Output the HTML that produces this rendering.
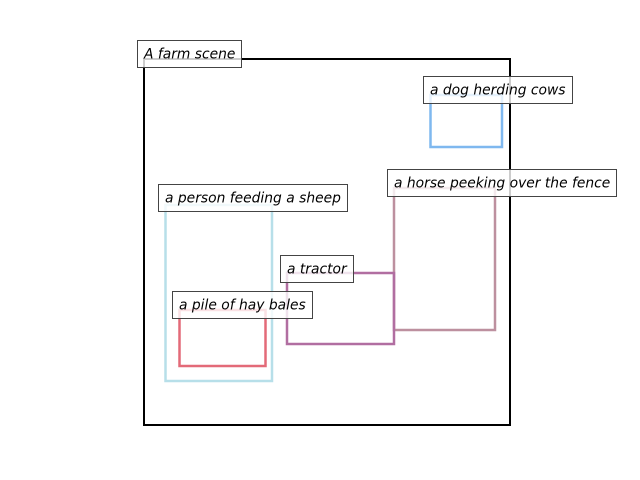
<!DOCTYPE html>
<html><head><style>html,body{margin:0;padding:0;background:#fff}</style></head>
<body>
<svg width="640" height="480" xmlns="http://www.w3.org/2000/svg" style="display:block">
<rect x="144" y="59" width="366" height="366" fill="none" stroke="#000" stroke-width="2"/>
<rect x="430.5" y="95" width="71.5" height="52" fill="none" stroke="#7fb8ef" stroke-width="2.5"/>
<rect x="394" y="188" width="101" height="142" fill="none" stroke="#bd909f" stroke-width="2.5"/>
<rect x="165.5" y="205" width="106.5" height="176" fill="none" stroke="#b7dfe9" stroke-width="2.5"/>
<rect x="179.5" y="310" width="86" height="56" fill="none" stroke="#e36a78" stroke-width="2.5"/>
<rect x="287" y="273" width="107" height="71" fill="none" stroke="#b16ea1" stroke-width="2.5"/>
<g font-family="DejaVu Sans, Liberation Sans, sans-serif" font-style="italic" font-size="13.85" fill="#000">
<rect x="137.5" y="40.5" width="104" height="27" fill="#fff" fill-opacity="0.8" stroke="#444"/>
<text x="144" y="58.5">A farm scene</text>
<rect x="423.5" y="76.5" width="149" height="27" fill="#fff" fill-opacity="0.8" stroke="#444"/>
<text x="430" y="94.5">a dog herding cows</text>
<rect x="387.5" y="169.5" width="229" height="27" fill="#fff" fill-opacity="0.8" stroke="#444"/>
<text x="394" y="187.5">a horse peeking over the fence</text>
<rect x="158.5" y="184.5" width="189" height="27" fill="#fff" fill-opacity="0.8" stroke="#444"/>
<text x="165" y="202.5">a person feeding a sheep</text>
<rect x="280.5" y="255.5" width="73" height="27" fill="#fff" fill-opacity="0.8" stroke="#444"/>
<text x="287" y="273.5">a tractor</text>
<rect x="172.5" y="291.5" width="140" height="27" fill="#fff" fill-opacity="0.8" stroke="#444"/>
<text x="179" y="309.5">a pile of hay bales</text>
</g>
</svg>
</body></html>
